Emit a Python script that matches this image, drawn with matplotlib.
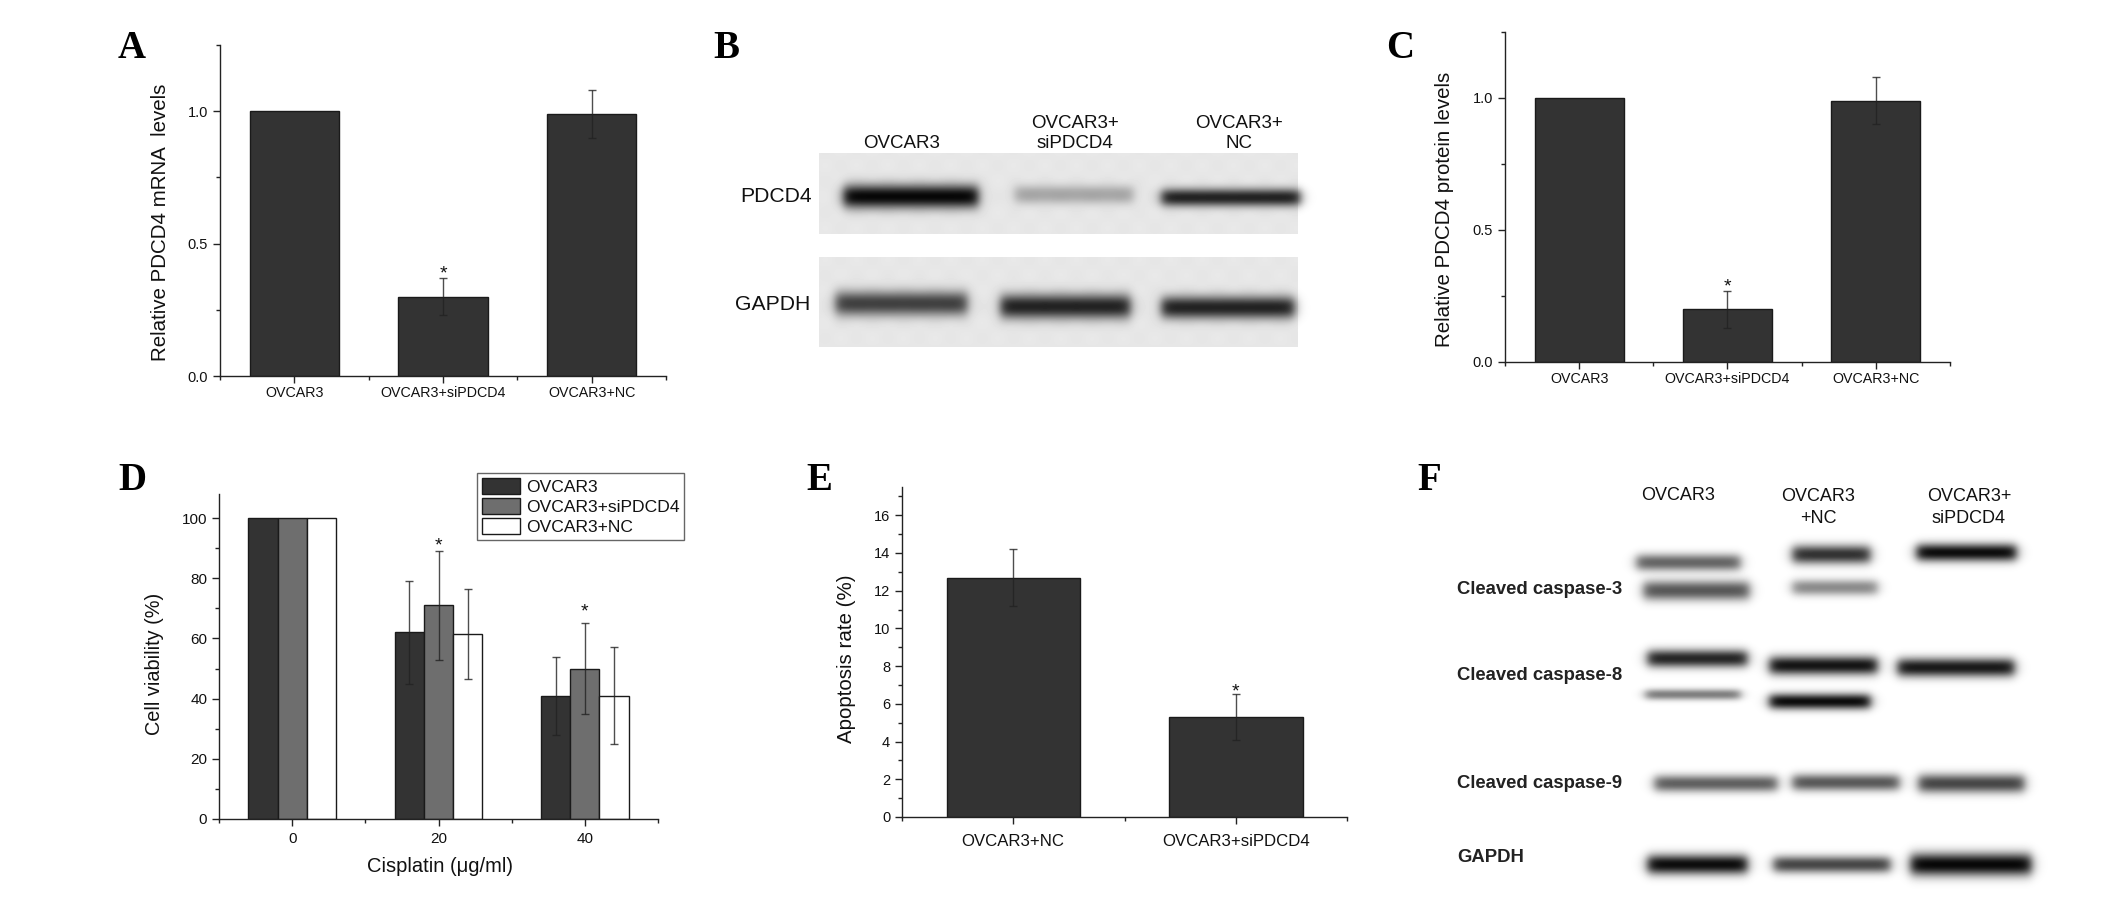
import numpy as np
import matplotlib
matplotlib.use("Agg")
import matplotlib.pyplot as plt
from matplotlib.patches import Patch

plt.rcParams['font.family'] = ['Liberation Sans', 'DejaVu Sans']

W, H = 2126, 910

# ---------- data ----------
cats_ac = ['OVCAR3', 'OVCAR3+siPDCD4', 'OVCAR3+NC']
a_vals = [1.0, 0.30, 0.99]
a_err = [0, 0.07, 0.09]
a_star = [2, 0.405]
c_vals = [1.0, 0.20, 0.99]
c_err = [0, 0.07, 0.09]
c_star = [2, 0.307]

d_groups = ['0', '20', '40']
d_series = ['OVCAR3', 'OVCAR3+siPDCD4', 'OVCAR3+NC']
d_ovcar = [100, 62, 41]
d_si = [100, 71, 50]
d_nc = [100, 61.5, 41]
d_ovcar_err = [0, 17, 13]
d_si_err = [0, 18, 15]
d_nc_err = [0, 15, 16]
d_stars = [[1, 92.5], [2, 70.5]]

e_cats = ['OVCAR3+NC', 'OVCAR3+siPDCD4']
e_vals = [12.7, 5.3]
e_err = [1.5, 1.2]
e_star = [2, 6.9]

# western blot panels: x0, x1, y, half height, darkness of each band (pixels of the picture)
b_band_x0 = [843, 1014, 1161, 835, 1000, 1161]
b_band_x1 = [978, 1133, 1300, 967, 1130, 1294]
b_band_y = [196, 194, 197, 303, 306, 307]
b_band_h = [12, 9.5, 9, 12.5, 12.5, 11.5]
b_band_d = [1.0, 0.28, 0.85, 0.72, 0.85, 0.85]
b_blocks = [[819, 1297, 153, 233], [819, 1297, 257, 346]]

f_band_x0 = [1636, 1643, 1792, 1792, 1916, 1647, 1645, 1769, 1769, 1897, 1654, 1792, 1918, 1647, 1773, 1910]
f_band_x1 = [1740, 1749, 1870, 1877, 2016, 1747, 1740, 1877, 1870, 2014, 1777, 1899, 2024, 1747, 1890, 2031]
f_band_y = [562, 590, 554, 587, 552, 658, 694, 665, 701, 667, 783, 782, 783, 864, 864, 864]
f_band_h = [8.5, 10, 9.5, 8, 9, 9, 5.5, 9.5, 8, 9.5, 8.5, 8.5, 9.5, 10, 8.5, 11.5]
f_band_d = [0.6, 0.65, 0.8, 0.45, 0.95, 0.85, 0.5, 0.92, 0.95, 0.9, 0.62, 0.65, 0.72, 0.95, 0.72, 0.97]

b_lanes = ['OVCAR3', 'OVCAR3+\nsiPDCD4', 'OVCAR3+\nNC']
f_lanes = ['OVCAR3', 'OVCAR3\n+NC', 'OVCAR3+\nsiPDCD4']
f_rows = ['Cleaved caspase-3', 'Cleaved caspase-8', 'Cleaved caspase-9', 'GAPDH']

# ---------- figure ----------
fig = plt.figure(figsize=(W / 100, H / 100), dpi=100, facecolor='white')

bg = fig.add_axes([0, 0, 1, 1], zorder=0)
bg.axis('off')

yy, xx = np.mgrid[0:H, 0:W]
img = np.ones((H, W))
for x0, x1, y0, y1 in b_blocks:
    m = (xx >= x0) & (xx <= x1) & (yy >= y0) & (yy <= y1)
    img[m] = 0.905 + 0.006 * np.sin(xx[m] / 5.0) * np.sin(yy[m] / 5.0)


def add_bands(img, x0s, x1s, ys, hs, ds):
    for x0, x1, y, h, d in zip(x0s, x1s, ys, hs, ds):
        edge = 6.0
        px = 0.5 * (np.tanh((xx - x0) / edge) - np.tanh((xx - x1) / edge))
        py = np.exp(-np.abs((yy - y) / h) ** 2.2)
        img = img * (1 - min(d, 0.97) * px * py)
    return img


img = add_bands(img, b_band_x0, b_band_x1, b_band_y, b_band_h, b_band_d)
img = add_bands(img, f_band_x0, f_band_x1, f_band_y, f_band_h, f_band_d)
bg.imshow(img, cmap='gray', vmin=0, vmax=1, extent=(0, W, H, 0), aspect='auto',
          interpolation='nearest', zorder=0)
bg.set_xlim(0, W)
bg.set_ylim(H, 0)


def txt(x, y, s, size, **kw):
    kw.setdefault('ha', 'center')
    kw.setdefault('va', 'center')
    kw.setdefault('color', '#111111')
    bg.text(x, y, s, fontsize=size, **kw)


for s, x, y in [('A', 132, 48), ('B', 726, 48), ('C', 1400, 48),
                ('D', 132, 480), ('E', 819, 480), ('F', 1429, 480)]:
    txt(x, y, s, 28, family='Liberation Serif', weight='bold', color='black')

# panel B labels
for x, s in zip([902, 1075, 1239], b_lanes):
    bg.text(x, 152, s, fontsize=13.5, ha='center', va='bottom', linespacing=1.2, color='#111111')
txt(812, 197, 'PDCD4', 15.2, ha='right')
txt(810, 305, 'GAPDH', 15.2, ha='right')

# panel F labels
for x, s in zip([1678, 1818, 1969], f_lanes):
    one_line = '\n' not in s
    bg.text(x, 487 if one_line else 527, s, fontsize=13, ha='center',
            va='top' if one_line else 'bottom', linespacing=1.4, color='#111111')
for y, s in zip([589, 676, 783, 858], f_rows):
    txt(1457, y, s, 13.3, ha='left', weight='bold', color='#222222')


def make_axes(left, right, top, bottom, ylim, xlim):
    ax = fig.add_axes([left / W, 1 - bottom / H, (right - left) / W, (bottom - top) / H], zorder=2)
    ax.patch.set_alpha(0)
    ax.set_xlim(*xlim)
    ax.set_ylim(*ylim)
    for s in ('top', 'right'):
        ax.spines[s].set_visible(False)
    for s in ('left', 'bottom'):
        ax.spines[s].set_color('#222222')
        ax.spines[s].set_linewidth(1.0)
    ax.tick_params(axis='both', which='major', direction='out', length=5, width=1, color='#222222',
                   labelcolor='#111111')
    ax.tick_params(axis='both', which='minor', direction='out', length=3, width=1, color='#222222')
    return ax


def err(ax, x, v, e):
    for xi, vi, ei in zip(x, v, e):
        if ei > 0:
            ax.errorbar(xi, vi, yerr=ei, color='#222222', alpha=0.8, elinewidth=1, capsize=2.6,
                        capthick=1, zorder=5)


def star(ax, x, y):
    ax.annotate('*', (x, y), xytext=(0, -4), textcoords='offset points', ha='center', va='center',
                fontsize=14, color='#111111', zorder=6)


BAR = '#333333'
EDGE = '#1a1a1a'


def three_bar(left, right, top, bottom, vals, errs, st, ylabel, ylx, yly):
    ax = make_axes(left, right, top, bottom, (0, 1.25), (0.5, 3.5))
    x = [1, 2, 3]
    ax.bar(x, vals, width=0.6, color=BAR, edgecolor=EDGE, linewidth=1)
    err(ax, x, vals, errs)
    star(ax, *st)
    ax.set_xticks(x)
    ax.set_xticklabels(cats_ac, fontsize=10.3)
    ax.set_xticks([0.5, 1.5, 2.5, 3.5], minor=True)
    ax.set_yticks([0, 0.5, 1.0])
    ax.set_yticklabels(['0.0', '0.5', '1.0'], fontsize=10.5)
    ax.set_yticks([0.25, 0.75, 1.25], minor=True)
    ax.tick_params(axis='x', which='major', pad=2.5)
    ax.tick_params(axis='x', which='minor', length=3)
    txt(ylx, yly, ylabel, 14.8, rotation=90)
    return ax


three_bar(220, 666, 45, 376, a_vals, a_err, a_star, 'Relative PDCD4 mRNA  levels', 160, 222)
three_bar(1505, 1950, 32, 362, c_vals, c_err, c_star, 'Relative PDCD4 protein levels', 1444, 209)

# panel D
axd = make_axes(219, 658, 494, 819, (0, 108), (-0.5, 2.5))
gx = np.arange(3)
cols = ['#333333', '#6e6e6e', '#ffffff']
series = [d_ovcar, d_si, d_nc]
errs = [d_ovcar_err, d_si_err, d_nc_err]
for i in range(3):
    xs = gx + (i - 1) * 0.2
    axd.bar(xs, series[i], width=0.2, color=cols[i], edgecolor=EDGE, linewidth=1)
    err(axd, xs, series[i], errs[i])
for st in d_stars:
    star(axd, *st)
axd.set_xticks(gx)
axd.set_xticklabels(d_groups, fontsize=11)
axd.tick_params(axis='x', which='major', pad=4.5)
axd.set_xticks([-0.5, 0.5, 1.5, 2.5], minor=True)
axd.set_yticks(range(0, 101, 20))
axd.set_yticklabels([str(v) for v in range(0, 101, 20)], fontsize=11)
axd.set_yticks(range(10, 100, 20), minor=True)
txt(154, 664, 'Cell viability (%)', 14.3, rotation=90)
txt(440, 867, 'Cisplatin (μg/ml)', 14.5)
handles = [Patch(facecolor=c, edgecolor=EDGE, linewidth=1, label=l) for c, l in zip(cols, d_series)]
leg = fig.legend(handles=handles, loc='upper left', bbox_to_anchor=(477 / W, 1 - 473 / H),
                 bbox_transform=fig.transFigure, borderaxespad=0, fontsize=12.6, fancybox=False,
                 edgecolor='#666666', framealpha=1, handlelength=2.2, handleheight=1.05,
                 labelspacing=0.17, handletextpad=0.3, borderpad=0.28)
leg.get_frame().set_linewidth(1)
leg.set_zorder(4)
for t in leg.get_texts():
    t.set_color('#111111')

# panel E
axe = make_axes(902, 1347, 487, 817, (0, 17.5), (0.5, 2.5))
ex = [1, 2]
axe.bar(ex, e_vals, width=0.6, color=BAR, edgecolor=EDGE, linewidth=1)
err(axe, ex, e_vals, e_err)
star(axe, *e_star)
axe.set_xticks(ex)
axe.set_xticklabels(e_cats, fontsize=12.1)
axe.tick_params(axis='x', which='major', pad=7)
axe.set_xticks([0.5, 1.5, 2.5], minor=True)
axe.set_yticks(range(0, 17, 2))
axe.set_yticklabels([str(v) for v in range(0, 17, 2)], fontsize=10.5)
axe.set_yticks(range(1, 18, 2), minor=True)
txt(847, 659, 'Apoptosis rate (%)', 14.8, rotation=90)

fig.savefig('out.png', dpi=100, facecolor='white')
